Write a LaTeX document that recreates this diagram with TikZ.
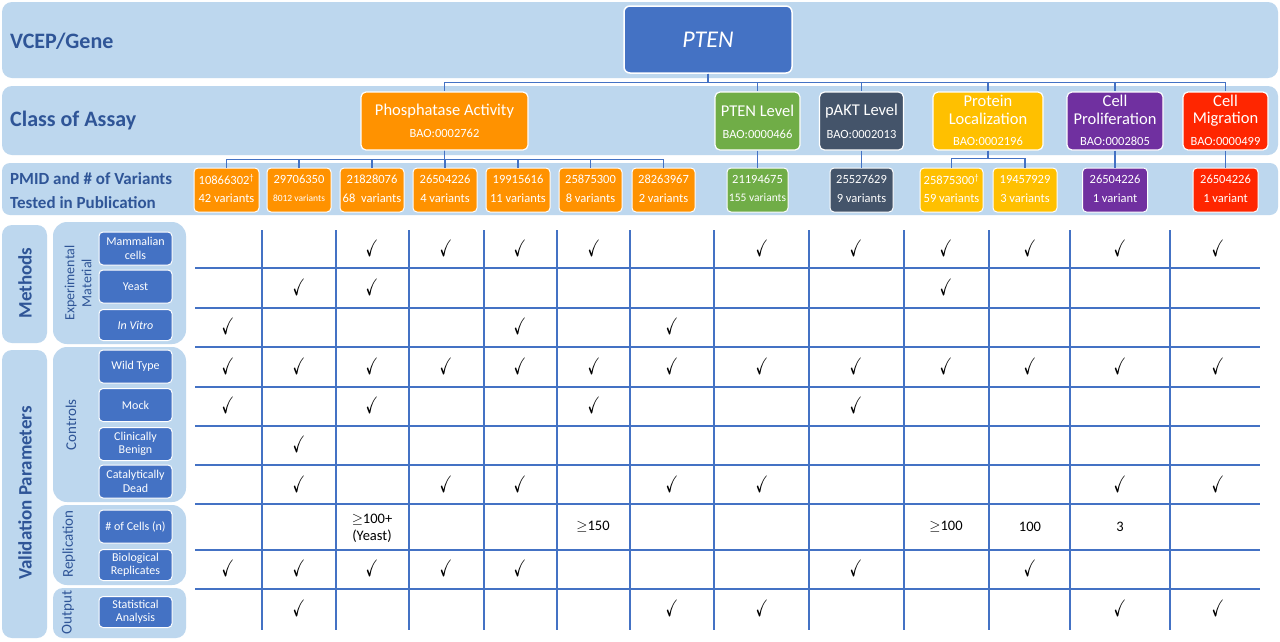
\documentclass[tikz,border=0pt]{standalone}
\usepackage{fontspec}
\setmainfont{Carlito}
\usepackage{amssymb}
\usepackage{graphicx}
\usetikzlibrary{calc}
\definecolor{bandc}{HTML}{BDD7EE}
\definecolor{darkc}{HTML}{2F5597}
\definecolor{ptenc}{HTML}{4472C4}
\definecolor{orangec}{HTML}{FF9200}
\definecolor{greenc}{HTML}{70AD47}
\definecolor{slatec}{HTML}{44546A}
\definecolor{goldc}{HTML}{FFC000}
\definecolor{purplec}{HTML}{7030A0}
\definecolor{redc}{HTML}{FF2600}
\definecolor{gridc}{HTML}{4472C4}
\newcommand{\fsz}[2]{\fontsize{#1}{#2}\selectfont}
\newcommand{\ckm}{\scalebox{0.8}[1.25]{$\checkmark$}}
\begin{document}
\begin{tikzpicture}[x=1pt,y=-1pt,
  band/.style={fill=bandc,rounded corners=10pt},
  panel/.style={fill=bandc,rounded corners=14pt},
  bandtext/.style={anchor=west,text=darkc,inner sep=0pt,font=\bfseries\fsz{22}{26}},
  bandsmall/.style={anchor=west,text=darkc,inner sep=0pt,font=\bfseries\fsz{17}{20}},
  genebox/.style={fill=ptenc,draw=white,line width=1.5pt,rounded corners=6pt,minimum width=168,minimum height=67,text=white,font=\itshape\fsz{24}{28}},
  clsbox/.style={draw=white,line width=1.2pt,rounded corners=5pt,minimum height=58,inner sep=0pt},
  pmbox/.style={draw=white,line width=1pt,rounded corners=4pt,minimum height=44,inner sep=0pt},
  clstext/.style={text=white,inner sep=0pt,font=\fsz{16.5}{19}},
  baotext/.style={text=white,inner sep=0pt,font=\fsz{12.5}{14}},
  pmtext/.style={text=white,inner sep=0pt,font=\fsz{12.5}{15}},
  vartext/.style={text=white,inner sep=0pt,font=\fsz{12.5}{14}},
  lblbox/.style={fill=ptenc,draw=white,line width=1pt,rounded corners=4pt,minimum width=73,inner sep=0pt,text=white,align=center,font=\fsz{12}{13.5}},
  sidebig/.style={rotate=90,text=darkc,inner sep=0pt,font=\bfseries\fsz{19}{22}},
  sidesmall/.style={rotate=90,text=darkc,inner sep=0pt,align=center,font=\fsz{15}{17}},
  conn/.style={draw=ptenc,line width=1.3pt},
  gridline/.style={draw=gridc,line width=1.6pt},
  ck/.style={inner sep=0pt,font=\fsz{19}{19}},
  val/.style={inner sep=0pt,align=center,font=\fsz{14.5}{17}}
]
\useasboundingbox[fill=white] (0,0) rectangle (1280,641);

% bands
\fill[band] (2,2) rectangle (1278,78);
\fill[band] (2,86) rectangle (1278,155);
\fill[band,rounded corners=8pt] (2,163) rectangle (1278,215);
\node[bandtext] (t-vcep) at (10,41) {VCEP/Gene};
\node[bandtext] (t-class) at (10,121) {Class of Assay};
\node[bandsmall] (t-pmid1) at (10,179) {PMID and \# of Variants};
\node[bandsmall] (t-pmid2) at (10,203) {Tested in Publication};

% gene box
\node[genebox] (pten) at (708,39.5) {PTEN};

% class boxes
\foreach \n/\x/\w/\c in {phos/444.5/167/orangec, ptenl/757.5/85/greenc, pakt/861.5/84/slatec, ploc/988/110/goldc, cprol/1115/96/purplec, cmig/1225.5/85/redc}
  \node[clsbox,fill=\c,minimum width=\w] (\n) at (\x,121) {};

\node[clstext] (phos-a) at (444.5,111) {Phosphatase Activity};
\node[baotext] (phos-b) at (444.5,133) {BAO:0002762};
\node[clstext] (ptenl-a) at (757.5,111) {PTEN Level};
\node[baotext] (ptenl-b) at (757.5,134) {BAO:0000466};
\node[clstext] (pakt-a) at (861.5,111) {pAKT Level};
\node[baotext] (pakt-b) at (861.5,134) {BAO:0002013};
\node[clstext] (ploc-a) at (988,101) {Protein};
\node[clstext] (ploc-b) at (988,119) {Localization};
\node[baotext] (ploc-c) at (988,141) {BAO:0002196};
\node[clstext] (cprol-a) at (1115,101) {Cell};
\node[clstext] (cprol-b) at (1115,119) {Proliferation};
\node[baotext] (cprol-c) at (1115,141) {BAO:0002805};
\node[clstext] (cmig-a) at (1225.5,101) {Cell};
\node[clstext] (cmig-b) at (1225.5,119) {Migration};
\node[baotext] (cmig-c) at (1225.5,141) {BAO:0000499};

% PMID boxes
\foreach \n/\x/\w/\c/\num/\var in {
  p1/226.5/65/orangec/10866302\textsuperscript{†}/42 variants,
  p2/299/64/orangec/29706350/{\fsz{9.5}{10}8012 variants},
  p3/372/64/orangec/21828076/68\ \ variants,
  p4/445/64/orangec/26504226/4 variants,
  p5/518/64/orangec/19915616/11 variants,
  p6/590.5/63/orangec/25875300/8 variants,
  p7/663.5/63/orangec/28263967/2 variants,
  p8/757.5/61/greenc/21194675/{\fsz{11.5}{12}155 variants},
  p9/861.5/63/slatec/25527629/9 variants,
  p10/951.5/63/goldc/25875300\textsuperscript{†}/59 variants,
  p11/1025/64/goldc/19457929/3 variants,
  p12/1115/65/purplec/26504226/1 variant,
  p13/1225.5/65/redc/26504226/1 variant}
{
  \node[pmbox,fill=\c,minimum width=\w] (\n) at (\x,190) {};
  \node[pmtext] (\n-a) at (\x,179.5) {\num};
  \node[vartext] (\n-b) at (\x,198) {\var};
}

% connectors
\foreach \n in {phos,ptenl,pakt,ploc,cprol,cmig}
  \draw[conn] (pten.south) -- ++(0,9) -| (\n.north);
\foreach \n in {p1,p2,p3,p4,p5,p6,p7}
  \draw[conn] (phos.south) -- ++(0,9) -| (\n.north);
\foreach \n in {p10,p11}
  \draw[conn] (ploc.south) -- ++(0,8) -| (\n.north);
\draw[conn] (ptenl.south) -- (p8.north);
\draw[conn] (pakt.south) -- (p9.north);
\draw[conn] (cprol.south) -- (p12.north);
\draw[conn] (cmig.south) -- (p13.north);

% left panels
\fill[panel,rounded corners=10pt] (2,225) rectangle (47,343);
\fill[panel,rounded corners=10pt] (2,350) rectangle (47,638);
\fill[panel] (53,222) rectangle (186,344);
\fill[panel] (53,347) rectangle (186,502);
\fill[panel] (53,505) rectangle (186,585);
\fill[panel,rounded corners=10pt] (53,588) rectangle (186,638);

\node[sidebig] (s-methods) at (25,283) {Methods};
\node[sidebig] (s-valid) at (25,493) {Validation Parameters};
\node[sidesmall,font=\fsz{14}{17}] (s-exp) at (78,283) {Experimental\\Material};
\node[sidesmall] (s-ctrl) at (71,425) {Controls};
\node[sidesmall] (s-repl) at (69,544) {Replication};
\node[sidesmall] (s-out) at (68,612.5) {Output};

\foreach \n/\y/\h/\t in {
  lb1/248.5/33/Mammalian\\cells,
  lb2/286.5/33/Yeast,
  lb3/325/31/\textit{In Vitro},
  lb4/366.5/33/Wild Type,
  lb5/405/33/Mock,
  lb6/444/33/Clinically\\Benign,
  lb7/481.5/33/Catalytically\\Dead,
  lb8/526.5/33/\# of Cells (n),
  lb9/565/31/Biological\\Replicates,
  lb10/612/31/Statistical\\Analysis}
  \node[lblbox,minimum height=\h] (\n) at (135.5,\y) {\t};

% grid
\foreach \x in {262,336,409,484,557,630,714,809,904,989,1070,1170}
  \draw[gridline] (\x,230) -- (\x,630);
\foreach \y in {268,308,347,387,426,465,504,550,589}
  \draw[gridline] (195,\y) -- (1260,\y);

% check marks
\foreach \r/\yy/\cl in {
  1/248/{3,4,5,6,8,9,10,11,12,13},
  2/287/{2,3,10},
  3/326/{1,5,7},
  4/366/{1,2,3,4,5,6,7,8,9,10,11,12,13},
  5/405/{1,3,6,9},
  6/444/{2},
  7/484/{2,4,5,7,8,12,13},
  9/568/{1,2,3,4,5,9,11},
  10/608/{2,7,8,12,13}}
{
  \foreach \c in \cl {
    \pgfmathsetmacro{\xx}{{0,228,299,372,446,520,594,672,762,856,946,1030,1120,1218}[\c]}
    \node[ck] (ck-\r-\c) at (\xx,\yy) {\ckm};
  }
}
\node[val] (v-3) at (372,528) {$\geq$100+\\(Yeast)};
\node[val] (v-6) at (593,527) {$\geq$150};
\node[val] (v-10) at (946,527) {$\geq$100};
\node[val] (v-11) at (1030,527) {100};
\node[val] (v-12) at (1120,527) {3};
\end{tikzpicture}
\end{document}
